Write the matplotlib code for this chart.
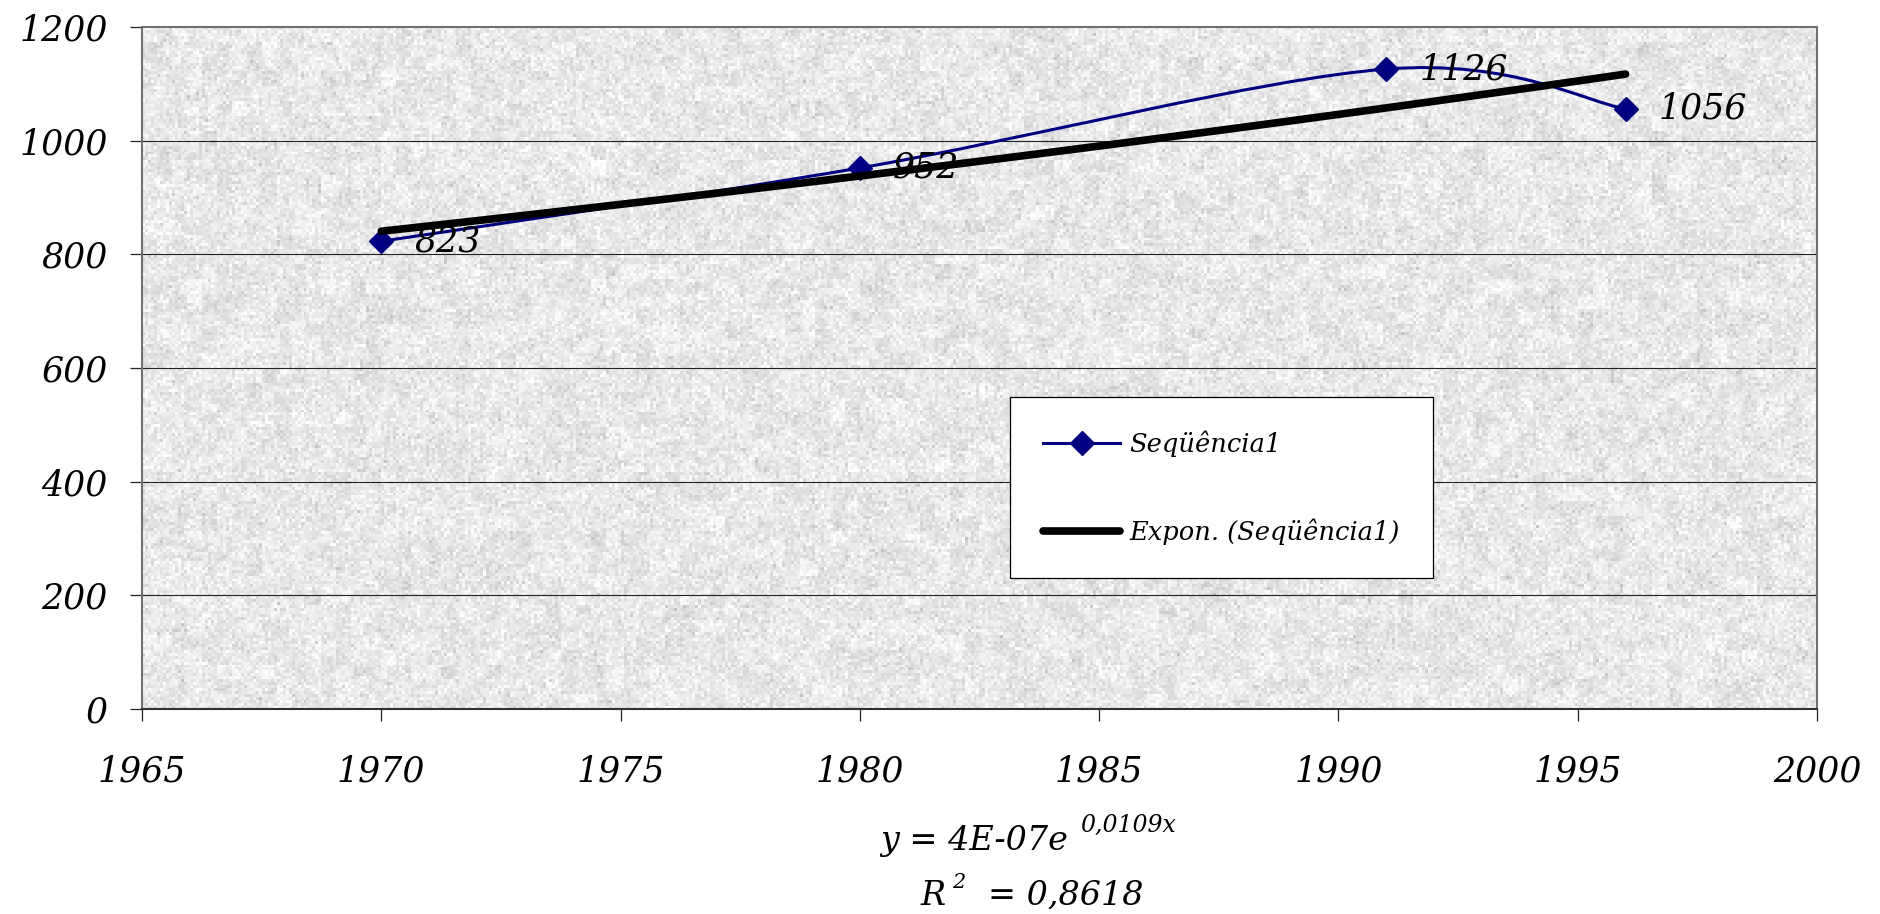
import numpy as np
import matplotlib
matplotlib.use("Agg")
import matplotlib.pyplot as plt
from matplotlib.path import Path
from matplotlib.patches import PathPatch
from matplotlib.lines import Line2D

plt.rcParams['font.family'] = ['DejaVu Serif']
plt.rcParams['font.style'] = 'italic'

years = [1970, 1980, 1991, 1996]
values = [823, 952, 1126, 1056]
series_name = 'Seqüência1'
trend_name = 'Expon. (Seqüência1)'
x_ticks = [1965, 1970, 1975, 1980, 1985, 1990, 1995, 2000]
y_ticks = [0, 200, 400, 600, 800, 1000, 1200]

navy = '#000080'

W, H = 1881, 914
fig = plt.figure(figsize=(W / 100, H / 100), dpi=100)
ax = fig.add_axes([142 / W, (H - 709) / H, (1817 - 142) / W, (709 - 27) / H])
ax.set_xlim(1965, 2000)
ax.set_ylim(0, 1200)

# granite-like fill of the plot area
rng = np.random.default_rng(11)
fine = rng.standard_normal((230, 560))
coarse = np.kron(rng.standard_normal((46, 112)), np.ones((5, 5)))
tex = 0.91 + 0.04 * fine + 0.017 * coarse
tex = np.clip(tex, 0.75, 1.0)
ax.imshow(tex, cmap='gray', vmin=0, vmax=1, extent=[1965, 2000, 0, 1200],
          aspect='auto', interpolation='nearest', zorder=0)

for yv in y_ticks[1:-1]:
    ax.axhline(yv, color='#222222', lw=0.8, zorder=1)

# smoothed series line (cubic Bezier through the points)
pts = np.column_stack([years, values]).astype(float)
ext = np.vstack([pts[0], pts, pts[-1]])
verts = [tuple(pts[0])]
codes = [Path.MOVETO]
for i in range(len(pts) - 1):
    p0, p1, p2, p3 = ext[i], ext[i + 1], ext[i + 2], ext[i + 3]
    c1 = p1 + (p2 - p0) / 6
    c2 = p2 - (p3 - p1) / 6
    verts += [tuple(c1), tuple(c2), tuple(p2)]
    codes += [Path.CURVE4] * 3
ax.add_patch(PathPatch(Path(verts, codes), fill=False, edgecolor=navy,
                       lw=2.2, zorder=3))
ax.plot(years, values, ls='none', marker='D', ms=12.5, color=navy, zorder=4)

# exponential trend fitted on the series
b, ln_a = np.polyfit(years, np.log(values), 1)
tx = np.linspace(years[0], years[-1], 60)
ax.plot(tx, np.exp(ln_a + b * tx), color='black', lw=5.5,
        solid_capstyle='round', zorder=5)

for xv, yv in zip(years, values):
    ax.annotate(str(yv), (xv, yv), xytext=(24, 0), textcoords='offset points',
                ha='left', va='center', fontsize=25, zorder=6)

ax.set_xticks(x_ticks)
ax.set_yticks(y_ticks)
ax.tick_params(axis='both', direction='out', length=8.5, width=0.9,
               color='#222222', labelsize=25)
ax.tick_params(axis='x', pad=24)
ax.tick_params(axis='y', pad=16)
for side in ['left', 'top', 'right']:
    ax.spines[side].set_color('#707070')
    ax.spines[side].set_linewidth(1.5)
ax.spines['bottom'].set_color('#303030')
ax.spines['bottom'].set_linewidth(1.5)

handles = [
    Line2D([], [], color=navy, lw=2.2, marker='D', ms=12.5),
    Line2D([], [], color='black', lw=5.5, solid_capstyle='round'),
]
leg = fig.legend(handles, [series_name, trend_name], loc='upper left',
                 bbox_to_anchor=(1010 / W, 1 - 397 / H), fontsize=18.5,
                 frameon=True, fancybox=False, framealpha=1, edgecolor='black',
                 handlelength=3.0, handletextpad=0.35, labelspacing=2.4,
                 borderpad=1.3, borderaxespad=0)
leg.get_frame().set_linewidth(0.9)

# trend equation under the axis
fig.text(880 / W, 1 - 850 / H, 'y = 4E-07e', ha='left', va='baseline', fontsize=24)
fig.text(1080 / W, 1 - 832 / H, '0,0109x', ha='left', va='baseline', fontsize=17)
fig.text(921 / W, 1 - 905 / H, 'R', ha='left', va='baseline', fontsize=24)
fig.text(952 / W, 1 - 888 / H, '2', ha='left', va='baseline', fontsize=15)
fig.text(988 / W, 1 - 905 / H, '= 0,8618', ha='left', va='baseline', fontsize=24)

fig.savefig('out.png', dpi=100)
